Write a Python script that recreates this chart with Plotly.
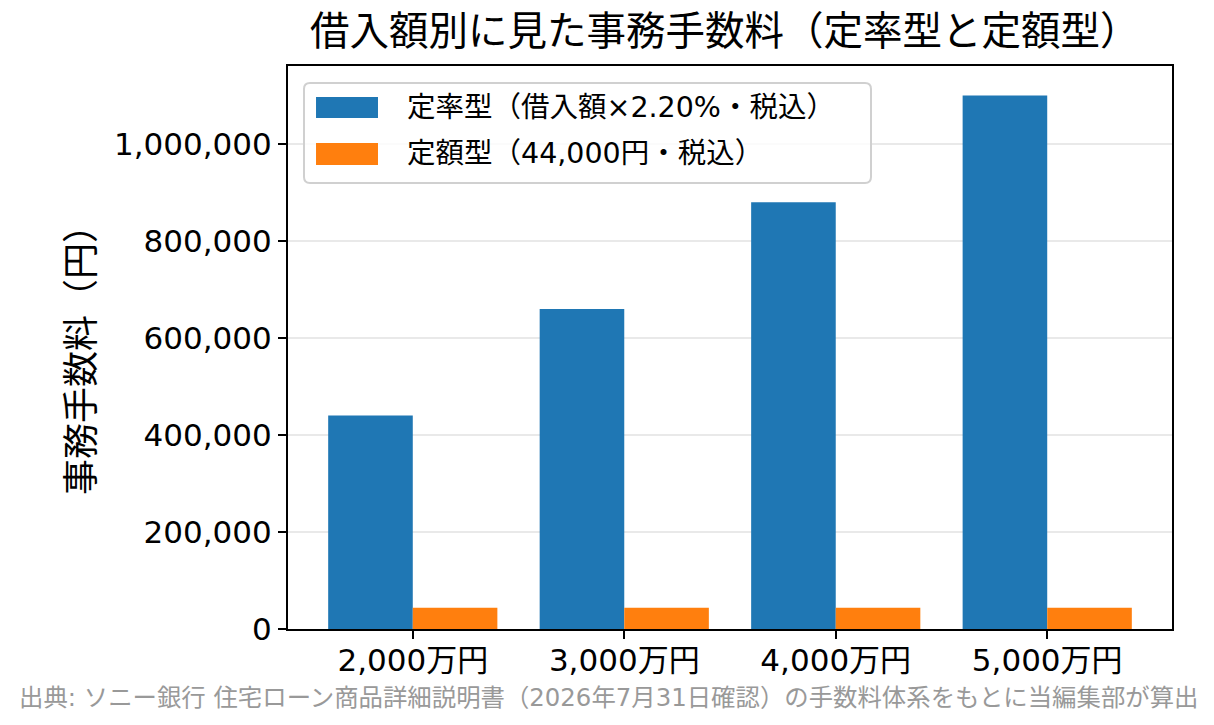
import plotly.graph_objects as go

# 借入額カテゴリと手数料（円）
categories = ['2,000万円', '3,000万円', '4,000万円', '5,000万円']
rate_fee = [440000, 660000, 880000, 1100000]
flat_fee = [44000, 44000, 44000, 44000]
series_names = ['定率型（借入額×2.20%・税込）', '定額型（44,000円・税込）']
series_colors = ['#1f77b4', '#ff7f0e']
y_ticks = [0, 200000, 400000, 600000, 800000, 1000000]

FONT = 'DejaVu Sans, Noto Sans CJK JP'

fig = go.Figure()
fig.add_trace(go.Bar(x=categories, y=rate_fee, name=series_names[0],
                     marker=dict(color=series_colors[0], line=dict(width=0))))
fig.add_trace(go.Bar(x=categories, y=flat_fee, name=series_names[1],
                     marker=dict(color=series_colors[1], line=dict(width=0))))

# the page body adds 8px on each side, so the figure is a bit smaller than the window
fig.update_layout(
    width=1206, height=709,
    margin=dict(l=280, r=42, t=58, b=88),
    paper_bgcolor='white', plot_bgcolor='white',
    font=dict(family=FONT, color='black'),
    barmode='group', bargap=0.2, bargroupgap=0,
    showlegend=False,
    title=dict(text='借入額別に見た事務手数料（定率型と定額型）', xref='paper', x=0.494,
               xanchor='center', yref='container', y=1 - 23 / 709, yanchor='middle',
               font=dict(size=39.5)),
)

fig.update_xaxes(range=[-0.59, 3.59], showline=True, linecolor='black', linewidth=2,
                 mirror=True, ticks='outside', ticklen=8, tickwidth=2, tickcolor='black',
                 tickfont=dict(size=31), ticklabelstandoff=-5, showgrid=False)
fig.update_yaxes(range=[0, 1160800], showline=True, linecolor='black', linewidth=2,
                 mirror=True, ticks='outside', ticklen=8, tickwidth=2, tickcolor='black',
                 tickvals=y_ticks, tickformat=',d', tickfont=dict(size=31),
                 showgrid=True, gridcolor='#e9e9e9', gridwidth=1.5, zeroline=False)

# y axis label
fig.add_annotation(text='事務手数料（円）', xref='paper', yref='paper', x=-0.233, y=0.494,
                   xanchor='center', yanchor='middle', textangle=-90, showarrow=False,
                   font=dict(size=36))

# legend box drawn by hand (matplotlib style: wide swatches)
x0, x1, y0, y1 = 0.0181, 0.6595, 0.7922, 0.9698
rx, ry = 0.0068, 0.0107
fig.add_shape(type='path', xref='paper', yref='paper', layer='above',
              path=(f'M {x0 + rx} {y1} L {x1 - rx} {y1} Q {x1} {y1} {x1} {y1 - ry} '
                    f'L {x1} {y0 + ry} Q {x1} {y0} {x1 - rx} {y0} L {x0 + rx} {y0} '
                    f'Q {x0} {y0} {x0} {y0 + ry} L {x0} {y1 - ry} Q {x0} {y1} {x0 + rx} {y1} Z'),
              line=dict(color='#d0d0d0', width=2), fillcolor='rgba(255,255,255,0.8)')
swatch_rows = [(0.9076, 0.9449), (0.8242, 0.8632)]
text_rows = [0.9263, 0.8437]
for name, color, (sy0, sy1), ty in zip(series_names, series_colors, swatch_rows, text_rows):
    fig.add_shape(type='rect', xref='paper', yref='paper', layer='above',
                  x0=0.0317, x1=0.1018, y0=sy0, y1=sy1,
                  fillcolor=color, line=dict(width=0))
    fig.add_annotation(text=name, xref='paper', yref='paper', x=0.1324, y=ty,
                       xanchor='left', yanchor='middle', showarrow=False,
                       font=dict(size=28.5))

# source note
fig.add_annotation(text='出典: ソニー銀行 住宅ローン商品詳細説明書（2026年7月31日確認）の手数料体系をもとに当編集部が算出',
                   xref='paper', yref='paper', x=0.362, y=-0.1208, xanchor='center', yanchor='middle',
                   showarrow=False, font=dict(size=24.4, color='#999999'))

fig.write_html('out.html')
